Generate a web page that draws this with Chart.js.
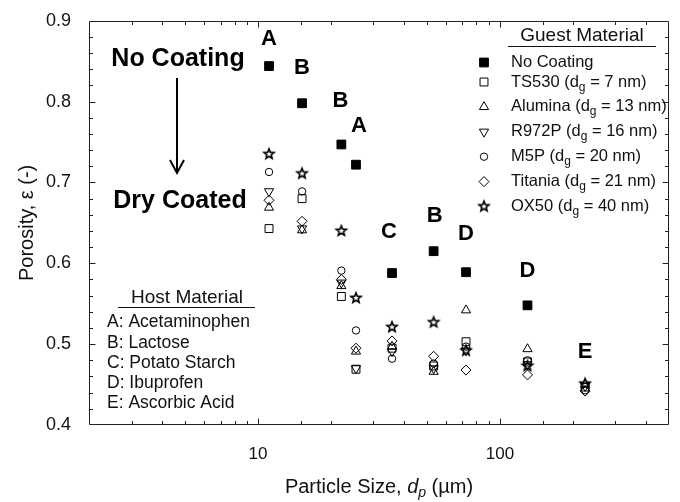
<!DOCTYPE html>
<html>
<head>
<meta charset="utf-8">
<script src="https://cdn.jsdelivr.net/npm/chart.js@4.4.1/dist/chart.umd.min.js"></script>
<style>
  html, body { margin: 0; padding: 0; background: #fff; }
  canvas { display: block; }
</style>
</head>
<body>
<canvas id="c" width="680" height="502"></canvas>
<script>
// Host particle size (µm) for each column of measurements
const particleSize = [11.1, 15.2, 22.1, 25.4, 35.8, 53.2, 72.4, 130, 225];
// Host material letter for each column
const hostLetters = ['A', 'B', 'B', 'A', 'C', 'B', 'D', 'D', 'E'];

// Porosity of the uncoated host and of each dry-coated blend
const noCoating = [0.844, 0.798, 0.747, 0.722, 0.588, 0.615, 0.589, 0.548, null];
const ts530     = [0.643, 0.680, 0.559, 0.469, 0.495, 0.473, 0.503, 0.478, 0.447];
const alumina   = [0.669, 0.641, 0.572, 0.491, 0.497, 0.466, 0.542, 0.494, 0.450];
const r972p     = [0.689, 0.643, 0.576, 0.470, 0.491, 0.470, 0.492, 0.475, 0.448];
const m5p       = [0.713, 0.689, 0.591, 0.517, 0.482, 0.476, 0.497, 0.480, 0.443];
const titania   = [0.678, 0.652, 0.580, 0.495, 0.504, 0.485, 0.468, 0.462, 0.442];
const ox50      = [0.735, 0.711, 0.640, 0.557, 0.521, 0.527, 0.492, 0.473, 0.451];

// Legend text
const guestNames = ['No Coating', 'TS530', 'Alumina', 'R972P', 'M5P', 'Titania', 'OX50'];
const guestSizeNm = [null, 7, 13, 16, 20, 21, 40];
const hostNames = ['A: Acetaminophen', 'B: Lactose', 'C: Potato Starch', 'D: Ibuprofen', 'E: Ascorbic Acid'];

// Axis ranges and labelled ticks
const xMin = 2, xMax = 500;
const xTickLabels = [10, 100];
const yMin = 0.4, yMax = 0.9, yStep = 0.1, yMinorStep = 0.02;

const FONT = 'Arial, "Liberation Sans", Helvetica, sans-serif';
const INK = '#111';

// Open five-pointed star used as a point style
function makeStar(R, r, lw) {
  const size = Math.ceil(2 * R + 2 * lw + 2);
  const cv = document.createElement('canvas');
  cv.width = size; cv.height = size;
  const g = cv.getContext('2d');
  const c = size / 2;
  g.beginPath();
  for (let i = 0; i < 10; i++) {
    const a = -Math.PI / 2 + i * Math.PI / 5;
    const rr = i % 2 ? r : R;
    g.lineTo(c + rr * Math.cos(a), c + rr * Math.sin(a));
  }
  g.closePath();
  g.lineWidth = lw;
  g.lineJoin = 'miter';
  g.strokeStyle = '#000';
  g.stroke();
  return cv;
}
const starImg = makeStar(5.3, 2.3, 1.6);

function series(label, ys, style) {
  return Object.assign({
    label,
    data: particleSize.map((x, i) => ({ x, y: ys[i] })).filter(p => p.y !== null),
    borderColor: '#000',
    backgroundColor: 'rgba(0,0,0,0)',
    borderWidth: 1,
    showLine: false
  }, style);
}

const datasets = [
  series(guestNames[0], noCoating, { pointStyle: 'rect', pointRadius: 6.2, backgroundColor: '#000' }),
  series(guestNames[1], ts530, { pointStyle: 'rect', pointRadius: 5.6 }),
  series(guestNames[2], alumina, { pointStyle: 'triangle', pointRadius: 5.3 }),
  series(guestNames[3], r972p, { pointStyle: 'triangle', pointRadius: 5.3, rotation: 180 }),
  series(guestNames[4], m5p, { pointStyle: 'circle', pointRadius: 3.7 }),
  series(guestNames[5], titania, { pointStyle: 'rectRot', pointRadius: 5 }),
  series(guestNames[6], ox50, { pointStyle: starImg, pointRadius: 5 })
];

// Draws a run of text pieces, some of them italic or subscripted
function richText(ctx, parts, x, y, size, align, weight) {
  const fontFor = p => `${p.italic ? 'italic ' : ''}${weight || 'normal'} ${p.sub ? Math.round(size * 0.72) : size}px ${FONT}`;
  let w = 0;
  parts.forEach(p => { ctx.font = fontFor(p); w += ctx.measureText(p.t).width; });
  let cx = align === 'center' ? x - w / 2 : x;
  ctx.textAlign = 'left';
  ctx.textBaseline = 'middle';
  parts.forEach(p => {
    ctx.font = fontFor(p);
    ctx.fillText(p.t, cx, y + (p.sub ? size * 0.32 : 0));
    cx += ctx.measureText(p.t).width;
  });
  return w;
}

// Frame with inward ticks on all four sides
const framePlugin = {
  id: 'frame',
  afterDatasetsDraw(chart) {
    const { ctx, chartArea: a, scales: { x, y } } = chart;
    const L = Math.round(a.left) + 0.5, R = Math.round(a.right) - 0.5;
    const T = Math.round(a.top) + 0.5, B = Math.round(a.bottom) - 0.5;
    ctx.save();
    ctx.strokeStyle = '#222';
    ctx.lineWidth = 1;
    ctx.beginPath();
    ctx.rect(L, T, R - L, B - T);
    x.ticks.forEach(t => {
      const lg = Math.log10(t.value);
      const major = Math.abs(lg - Math.round(lg)) < 1e-6;
      const len = major ? 6 : 3.5;
      const px = Math.round(x.getPixelForValue(t.value)) + 0.5;
      if (px <= L + 1 || px >= R - 1) return;
      ctx.moveTo(px, B); ctx.lineTo(px, B - len);
      ctx.moveTo(px, T); ctx.lineTo(px, T + len);
    });
    const n = Math.round((yMax - yMin) / yMinorStep);
    for (let i = 1; i < n; i++) {
      const v = yMin + i * yMinorStep;
      const major = i % Math.round(yStep / yMinorStep) === 0;
      const len = major ? 6 : 3.5;
      const py = Math.round(y.getPixelForValue(v)) + 0.5;
      ctx.moveTo(L, py); ctx.lineTo(L + len, py);
      ctx.moveTo(R, py); ctx.lineTo(R - len, py);
    }
    ctx.stroke();
    ctx.restore();
  }
};

// Host letters above each column, anchored in data units with a small pixel nudge
const letterAnchorY = [0.877, 0.842, 0.801, 0.770, 0.639, 0.659, 0.636, 0.591, 0.490];
const letterNudgeX = [0, 0, -1, 3, -3, 1, 0, 0, 0];

const annotationPlugin = {
  id: 'annotations',
  afterDraw(chart) {
    const { ctx, chartArea: a, scales: { x, y } } = chart;
    ctx.save();
    ctx.fillStyle = '#000';
    ctx.textAlign = 'center';
    ctx.textBaseline = 'middle';

    // host letters
    ctx.font = `bold 22px ${FONT}`;
    hostLetters.forEach((s, i) => {
      ctx.fillText(s, x.getPixelForValue(particleSize[i]) + letterNudgeX[i], y.getPixelForValue(letterAnchorY[i]));
    });

    // coating direction note
    ctx.font = `bold 25px ${FONT}`;
    ctx.fillText('No Coating', 178, 59);
    ctx.fillText('Dry Coated', 180, 201);
    ctx.strokeStyle = '#000';
    ctx.lineWidth = 2;
    ctx.beginPath();
    ctx.moveTo(177, 78); ctx.lineTo(177, 172);
    ctx.moveTo(170, 160); ctx.lineTo(177, 173); ctx.lineTo(184, 160);
    ctx.stroke();

    // guest material legend
    ctx.fillStyle = INK;
    ctx.font = `19px ${FONT}`;
    ctx.fillText('Guest Material', 582, 36);
    ctx.strokeStyle = INK;
    ctx.lineWidth = 1;
    ctx.beginPath(); ctx.moveTo(508, 46.5); ctx.lineTo(656, 46.5); ctx.stroke();
    guestNames.forEach((name, i) => {
      const ry = i === 0 ? 62.5 : 82 + (i - 1) * 24.9;
      const ds = chart.data.datasets[i];
      ctx.save();
      ctx.fillStyle = ds.backgroundColor;
      ctx.strokeStyle = ds.borderColor;
      ctx.lineWidth = ds.borderWidth;
      Chart.helpers.drawPoint(ctx, { pointStyle: ds.pointStyle, radius: ds.pointRadius, rotation: ds.rotation || 0, borderWidth: ds.borderWidth }, 484, ry);
      ctx.restore();
      ctx.fillStyle = INK;
      const parts = guestSizeNm[i] === null
        ? [{ t: name }]
        : [{ t: name + ' (d' }, { t: 'g', sub: true }, { t: ' = ' + guestSizeNm[i] + ' nm)' }];
      richText(ctx, parts, 511, ry, 16.5, 'left');
    });

    // host material legend
    ctx.textAlign = 'center';
    ctx.font = `19px ${FONT}`;
    ctx.fillText('Host Material', 187, 298);
    ctx.beginPath(); ctx.moveTo(118, 307.5); ctx.lineTo(255, 307.5); ctx.stroke();
    ctx.textAlign = 'left';
    ctx.font = `17.5px ${FONT}`;
    hostNames.forEach((s, i) => ctx.fillText(s, 107, 322.5 + i * 20.2));

    // x axis title with italic subscripted symbol
    richText(ctx, [{ t: 'Particle Size, ' }, { t: 'd', italic: true }, { t: 'p', italic: true, sub: true }, { t: ' (\u00b5m)' }],
      (a.left + a.right) / 2, 487, 20, 'center');
    ctx.restore();
  }
};

new Chart(document.getElementById('c'), {
  type: 'scatter',
  data: { datasets },
  options: {
    responsive: false,
    animation: false,
    devicePixelRatio: 1,
    layout: { padding: { top: 19, right: 7, left: 0, bottom: 0 } },
    plugins: { legend: { display: false }, tooltip: { enabled: false } },
    scales: {
      x: {
        type: 'logarithmic',
        min: xMin,
        max: xMax,
        grid: { display: false },
        border: { display: false },
        afterFit(s) { s.height = 77; },
        ticks: {
          autoSkip: false,
          maxRotation: 0,
          padding: 11,
          color: INK,
          font: { family: FONT, size: 17 },
          callback: v => xTickLabels.includes(v) ? String(v) : ''
        }
      },
      y: {
        min: yMin,
        max: yMax,
        grid: { display: false },
        border: { display: false },
        afterFit(s) { s.width = 89; },
        ticks: {
          stepSize: yStep,
          padding: 10,
          color: INK,
          font: { family: FONT, size: 18 },
          callback: v => v.toFixed(1)
        },
        title: {
          display: true,
          text: 'Porosity, \u03b5 (-)',
          color: INK,
          font: { family: FONT, size: 20 },
          padding: { top: 15, bottom: 0 }
        }
      }
    }
  },
  plugins: [framePlugin, annotationPlugin]
});
</script>
</body>
</html>
